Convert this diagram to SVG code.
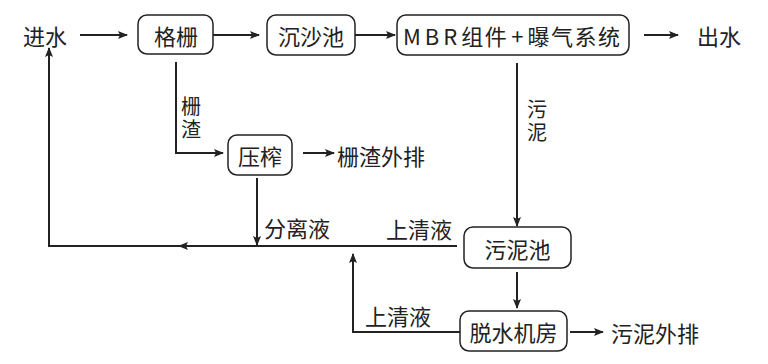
<svg xmlns="http://www.w3.org/2000/svg" width="768" height="364" viewBox="0 0 768 364">
<style>
text{font-family:"Noto Sans CJK SC","Noto Sans",sans-serif;font-size:22px;fill:#222;dominant-baseline:central}
.lbl{font-size:20px}
.box{fill:#fff;stroke:#222;stroke-width:1.5}
.c{text-anchor:middle}
.ln{fill:none;stroke:#222;stroke-width:2}
</style>
<defs>
<marker id="ah" markerUnits="userSpaceOnUse" markerWidth="10" markerHeight="10" viewBox="0 0 10 8" refX="9" refY="4" orient="auto">
<path d="M0,0 L10,4 L0,8 L2,4 z" fill="#222"/>
</marker>
</defs>
<rect width="768" height="364" fill="#fff"/>
<g id="connectors">
<path class="ln" d="M80,35 H127" marker-end="url(#ah)"/>
<path class="ln" d="M213,35 H259" marker-end="url(#ah)"/>
<path class="ln" d="M355,35 H395" marker-end="url(#ah)"/>
<path class="ln" d="M644,35 H678" marker-end="url(#ah)"/>
<path class="ln" d="M176,62 V153 H223" marker-end="url(#ah)"/>
<path class="ln" d="M303,153 H334" marker-end="url(#ah)"/>
<path class="ln" d="M257,178 V245" marker-end="url(#ah)"/>
<path class="ln" d="M517,63 V226" marker-end="url(#ah)"/>
<path class="ln" d="M517,272 V308" marker-end="url(#ah)"/>
<path class="ln" d="M570,332 H603" marker-end="url(#ah)"/>
<path class="ln" d="M457,246 H179" marker-end="url(#ah)"/>
<path class="ln" d="M181,246 H49 V48" marker-end="url(#ah)"/>
<path class="ln" d="M460,332 H353 V254" marker-end="url(#ah)"/>
<text class="lbl c" x="191" y="105">栅<tspan x="191" dy="23">渣</tspan></text>
<text class="lbl c" x="537" y="108">污<tspan x="537" dy="23">泥</tspan></text>
<text x="264" y="227">分离液</text>
<text x="386" y="228">上清液</text>
<text x="365" y="315">上清液</text>
</g>
<g id="jinshui"><text x="23" y="35">进水</text></g>
<g id="geshan"><rect class="box" x="138" y="15" width="75" height="39" rx="9"/><text class="c" x="176" y="35">格栅</text></g>
<g id="chenshachi"><rect class="box" x="267" y="15" width="88" height="40" rx="9"/><text class="c" x="311" y="35">沉沙池</text></g>
<g id="mbr"><rect class="box" x="397" y="15" width="232" height="40" rx="9"/><text x="403" y="35"><tspan letter-spacing="4">MBR</tspan><tspan letter-spacing="1.5">组件</tspan><tspan dx="3">+</tspan><tspan dx="4" letter-spacing="1.5">曝气系统</tspan></text></g>
<g id="chushui"><text x="697" y="35">出水</text></g>
<g id="yazha"><rect class="box" x="228" y="135" width="64" height="40" rx="9"/><text class="c" x="260" y="155">压榨</text></g>
<g id="zhawaipai"><text x="337" y="155">栅渣外排</text></g>
<g id="wunichi"><rect class="box" x="464" y="227" width="107" height="41" rx="9"/><text class="c" x="517.5" y="248">污泥池</text></g>
<g id="tuoshui"><rect class="box" x="460" y="311" width="107" height="40" rx="9"/><text class="c" x="513.5" y="331">脱水机房</text></g>
<g id="niwaipai"><text x="611" y="332">污泥外排</text></g>
</svg>
